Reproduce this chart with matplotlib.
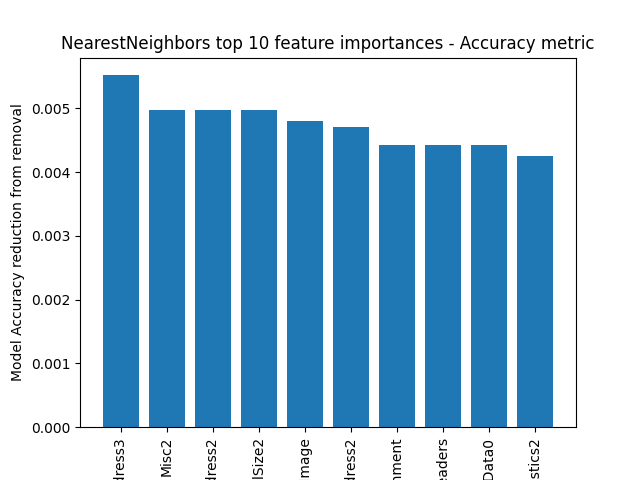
import matplotlib
matplotlib.use('Agg')
import matplotlib.pyplot as plt

features = ['VirtualAddress3', 'Misc2', 'VirtualAddress2', 'SizeOfRawDataVirtualSize2',
            'SizeOfImage', 'PhysicalAddress2', 'SectionAlignment', 'SizeOfHeaders',
            'PointerToRawData0', 'Characteristics2']
importances = [0.00552, 0.00497, 0.00497, 0.00497, 0.00480, 0.00470,
               0.00443, 0.00443, 0.00443, 0.00425]

fig, ax = plt.subplots(figsize=(6.4, 4.8), dpi=100)
ax.bar(features, importances, color='#1f77b4')
ax.set_title('NearestNeighbors top 10 feature importances - Accuracy metric')
ax.set_ylabel('Model Accuracy reduction from removal')
plt.xticks(rotation=90)
fig.savefig('out.png')
